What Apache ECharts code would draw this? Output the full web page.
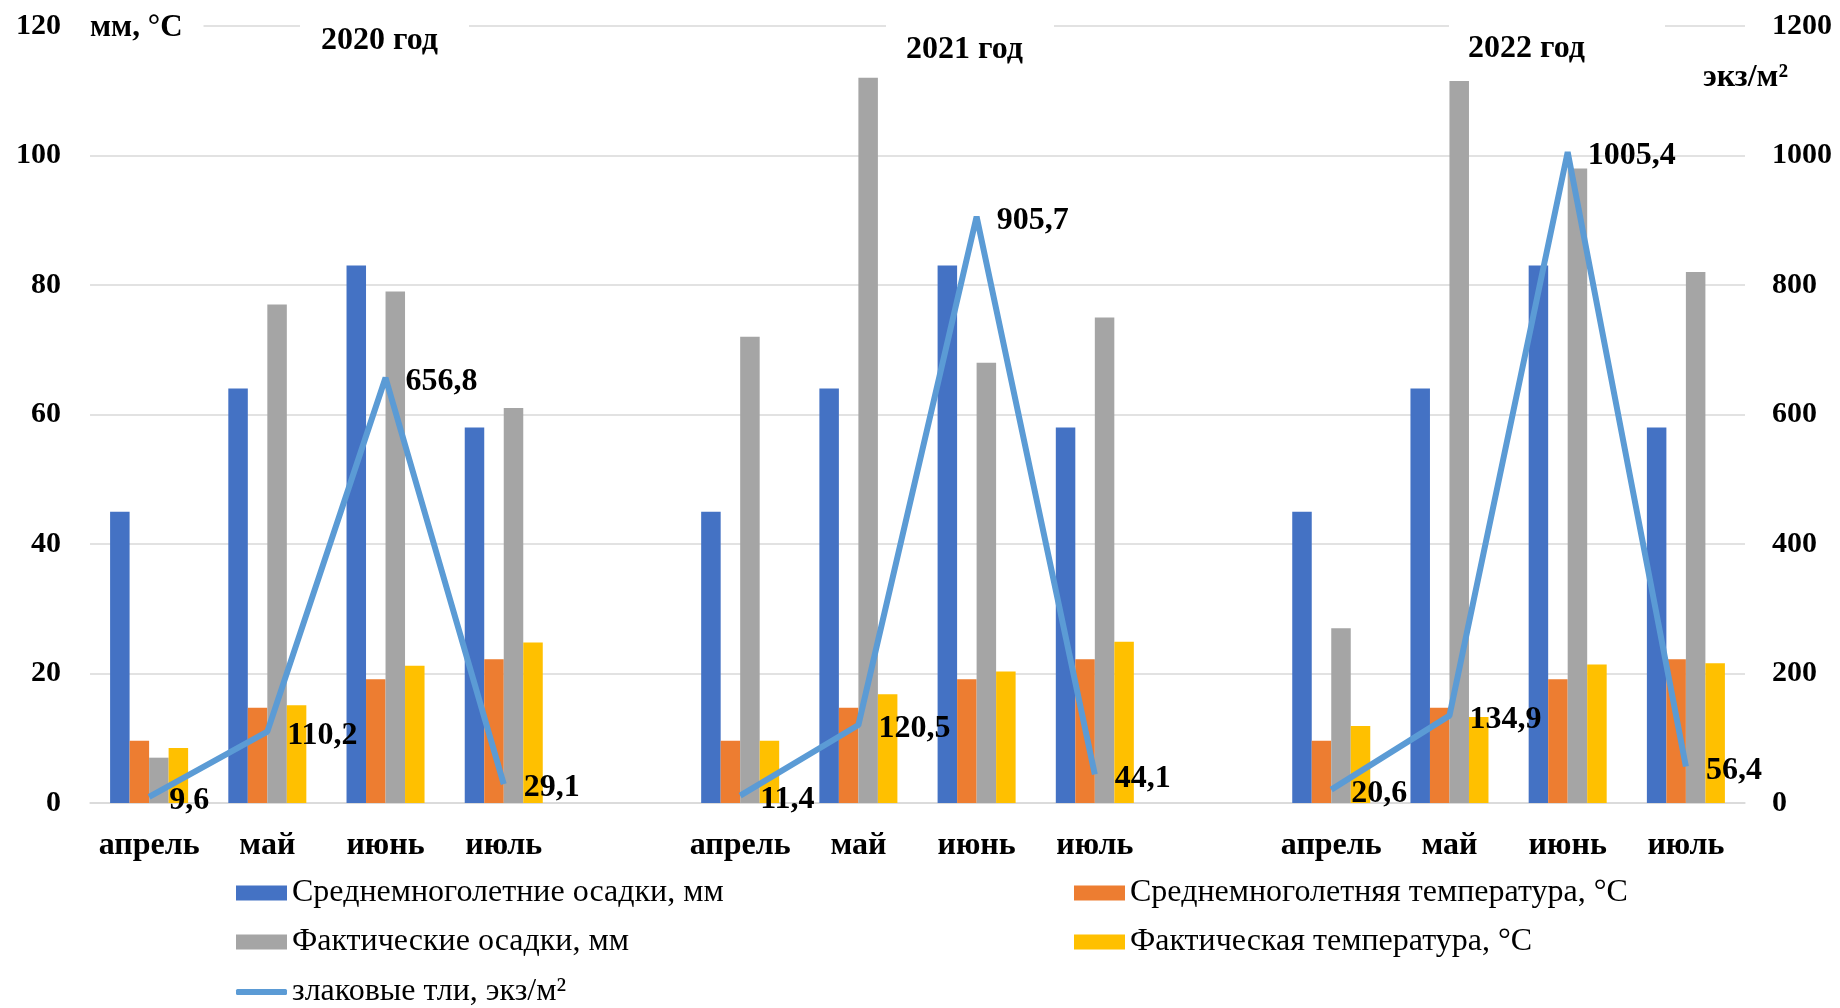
<!DOCTYPE html>
<html>
<head>
<meta charset="utf-8">
<script src="https://cdn.jsdelivr.net/npm/echarts@6/dist/echarts.min.js"></script>
<style>
html,body{margin:0;padding:0;background:#fff;}
#chart{width:1840px;height:1008px;}
</style>
</head>
<body>
<div id="chart"></div>
<script>
var months = ['апрель', 'май', 'июнь', 'июль'];
var categories = months.concat([''], months, [''], months);
var yearLabels = ['2020 год', '2021 год', '2022 год'];
var seriesNames = ['Среднемноголетние осадки, мм', 'Среднемноголетняя температура, °C', 'Фактические осадки, мм', 'Фактическая температура, °C', 'злаковые тли, экз/м²'];

var avgPrecip  = [45, 64, 83, 58, null, 45, 64, 83, 58, null, 45, 64, 83, 58];
var avgTemp    = [9.6, 14.7, 19.1, 22.2, null, 9.6, 14.7, 19.1, 22.2, null, 9.6, 14.7, 19.1, 22.2];
var factPrecip = [7, 77, 79, 61, null, 72, 112, 68, 75, null, 27, 111.5, 98, 82];
var factTemp   = [8.5, 15.1, 21.2, 24.8, null, 9.6, 16.8, 20.3, 24.9, null, 11.9, 13.3, 21.4, 21.6];
var aphids     = [9.6, 110.2, 656.8, 29.1, null, 11.4, 120.5, 905.7, 44.1, null, 20.6, 134.9, 1005.4, 56.4];

var leftTicks = {min: 0, max: 120, interval: 20};
var rightTicks = {min: 0, max: 1200, interval: 200};

var FONT = 'Liberation Serif';
var colors = ['#4472C4', '#ED7D31', '#A5A5A5', '#FFC000', '#5B9BD5'];

function barSeries(name, data, color) {
  return {
    name: name, type: 'bar', data: data, yAxisIndex: 0,
    barGap: '0%', barCategoryGap: '34%',
    itemStyle: {color: color}
  };
}

var chart = echarts.init(document.getElementById('chart'), null, {renderer: 'canvas'});

function legendAt(name, left, top, isLine) {
  return {
    data: [isLine ? {name: name, icon: 'roundRect'} : {name: name, icon: 'rect'}],
    left: left, top: top, padding: 0,
    itemWidth: 51, itemHeight: isLine ? 6 : 15, itemGap: 5,
    selectedMode: false,
    textStyle: {fontFamily: FONT, fontSize: 32, color: '#000'}
  };
}

var titleStyle = {fontFamily: FONT, fontSize: 32, fontWeight: 'bold', color: '#000'};

var option = {
  animation: false,
  backgroundColor: '#fff',
  textStyle: {fontFamily: FONT},
  color: colors,
  grid: {left: 90, right: 95, top: 26, bottom: 205, containLabel: false},
  title: [
    {text: yearLabels[0], left: 300, top: 15, padding: [10, 31, 6, 21], backgroundColor: '#fff', textStyle: titleStyle},
    {text: yearLabels[1], left: 886, top: 21, padding: [13, 31, 6, 20], backgroundColor: '#fff', textStyle: titleStyle},
    {text: yearLabels[2], left: 1449, top: 21, padding: [12, 80, 6, 19], backgroundColor: '#fff', textStyle: titleStyle},
    {text: 'мм, °C', left: 88, top: 6, padding: [6, 21, 4, 2], backgroundColor: '#fff', textStyle: {fontFamily: FONT, fontSize: 31, fontWeight: 'bold', color: '#000'}},
    {text: 'экз/м²', left: 1703, top: 62, padding: 0, textStyle: {fontFamily: FONT, fontSize: 32, fontWeight: 'bold', color: '#000'}}
  ],
  legend: [
    legendAt(seriesNames[0], 236, 877),
    legendAt(seriesNames[1], 1074, 877),
    legendAt(seriesNames[2], 236, 926),
    legendAt(seriesNames[3], 1074, 926),
    legendAt(seriesNames[4], 236, 976, true)
  ],
  xAxis: {
    type: 'category', data: categories,
    axisTick: {show: false},
    axisLine: {lineStyle: {color: '#D9D9D9', width: 1.5}},
    axisLabel: {color: '#000', fontFamily: FONT, fontSize: 32, fontWeight: 'bold', margin: 27, interval: 0}
  },
  yAxis: [
    {
      type: 'value', min: leftTicks.min, max: leftTicks.max, interval: leftTicks.interval,
      axisLine: {show: false}, axisTick: {show: false},
      splitLine: {lineStyle: {color: '#D9D9D9', width: 1.5}},
      axisLabel: {color: '#000', fontFamily: FONT, fontSize: 30, fontWeight: 'bold', margin: 29}
    },
    {
      type: 'value', min: rightTicks.min, max: rightTicks.max, interval: rightTicks.interval,
      axisLine: {show: false}, axisTick: {show: false},
      splitLine: {show: false},
      axisLabel: {color: '#000', fontFamily: FONT, fontSize: 30, fontWeight: 'bold', margin: 27,
        formatter: function (v) { return String(v); }}
    }
  ],
  series: [
    barSeries(seriesNames[0], avgPrecip, colors[0]),
    barSeries(seriesNames[1], avgTemp, colors[1]),
    barSeries(seriesNames[2], factPrecip, colors[2]),
    barSeries(seriesNames[3], factTemp, colors[3]),
    {
      name: seriesNames[4], type: 'line', yAxisIndex: 1, data: aphids,
      symbol: 'circle', symbolSize: 0.1, showSymbol: true, connectNulls: false,
      lineStyle: {color: colors[4], width: 6},
      itemStyle: {color: colors[4]},
      z: 5,
      label: {
        show: true, position: 'right', distance: 20, offset: [0, 4],
        color: '#000', fontFamily: FONT, fontSize: 32, fontWeight: 'bold',
        formatter: function (p) { return p.value == null ? '' : String(p.value.toFixed(1)).replace('.', ','); }
      }
    }
  ]
};
chart.setOption(option);
</script>
</body>
</html>
